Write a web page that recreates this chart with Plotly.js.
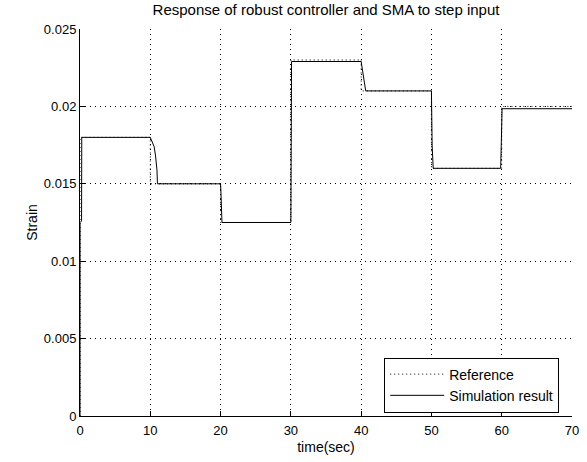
<!DOCTYPE html>
<html>
<head>
<meta charset="utf-8">
<script src="https://cdn.plot.ly/plotly-3.0.1.min.js"></script>
<style>html,body{margin:0;padding:0;background:#fff;}</style>
</head>
<body>
<div id="chart" style="width:587px;height:462px;"></div>
<script>
// Reference step signal (time in sec, strain)
var refTime = [0, 0, 10, 20, 30, 40, 50, 60, 70];
var refStrain = [0, 0.018, 0.015, 0.0125, 0.023, 0.021, 0.016, 0.020, 0.020];

// Simulation result (robust controller + SMA)
var simTime = [0, 0.01, 0.22, 0.25, 10, 10.25, 10.55, 10.75, 10.95, 11.02,
               20, 20.05, 20.1, 20.2, 30, 30.05, 30.1,
               40, 40.2, 40.5, 40.65, 50, 50.1, 50.25,
               59.85, 59.95, 60.05, 70];
var simStrain = [0, 0.0125, 0.0126, 0.018, 0.018, 0.0177, 0.0174, 0.0168, 0.0159, 0.0150,
                 0.0150, 0.0145, 0.0135, 0.0125, 0.0125, 0.018, 0.0229,
                 0.0229, 0.0222, 0.0215, 0.0210, 0.0210, 0.0175, 0.0160,
                 0.0160, 0.0178, 0.01985, 0.01985];

var xTicks = [0, 10, 20, 30, 40, 50, 60, 70];
var yTicks = [0, 0.005, 0.01, 0.015, 0.02, 0.025];
var yTickText = ['0', '0.005', '0.01', '0.015', '0.02', '0.025'];

var FONT = 'Liberation Sans, Arial, Helvetica, sans-serif';

var traces = [
  {
    x: refTime, y: refStrain, name: 'Reference', type: 'scatter', mode: 'lines',
    line: {color: '#000', width: 1, dash: '1px,3px', shape: 'hv'}
  },
  {
    x: simTime, y: simStrain, name: 'Simulation result', type: 'scatter', mode: 'lines',
    line: {color: '#000', width: 1}
  }
];

var axisCommon = {
  showline: true, linecolor: '#000', linewidth: 1,
  ticks: 'inside', ticklen: 5, tickcolor: '#000', tickwidth: 1,
  showgrid: true, gridcolor: '#000', gridwidth: 1, griddash: '1px,4px',
  zeroline: false, mirror: false,
  tickfont: {family: FONT, size: 13, color: '#000'}
};

var layout = {
  width: 587, height: 462,
  margin: {l: 80, r: 15, t: 29, b: 46, pad: 0},
  paper_bgcolor: '#fff', plot_bgcolor: '#fff',
  font: {family: FONT, size: 14, color: '#000'},
  title: {
    text: 'Response of robust controller and SMA to step input',
    font: {family: FONT, size: 15, color: '#000'},
    x: 0.5, xref: 'paper', xanchor: 'center',
    y: 1 - 10 / 462, yref: 'container', yanchor: 'middle'
  },
  xaxis: Object.assign({}, axisCommon, {
    range: [0, 70], tickvals: xTicks, ticktext: xTicks.map(String),
    ticklabelstandoff: 2,
    title: {text: 'time(sec)', font: {family: FONT, size: 14, color: '#000'}, standoff: 5}
  }),
  yaxis: Object.assign({}, axisCommon, {
    range: [0, 0.025], tickvals: yTicks, ticktext: yTickText,
    title: {text: 'Strain', font: {family: FONT, size: 14, color: '#000'}, standoff: 2}
  }),
  showlegend: true,
  legend: {
    x: 0.974, xanchor: 'right', y: 0.009, yanchor: 'bottom',
    bgcolor: '#fff', bordercolor: '#000', borderwidth: 1,
    font: {family: FONT, size: 14, color: '#000'},
    itemwidth: 54, tracegroupgap: 0
  }
};

Plotly.newPlot('chart', traces, layout, {displayModeBar: false, staticPlot: true});
</script>
</body>
</html>
